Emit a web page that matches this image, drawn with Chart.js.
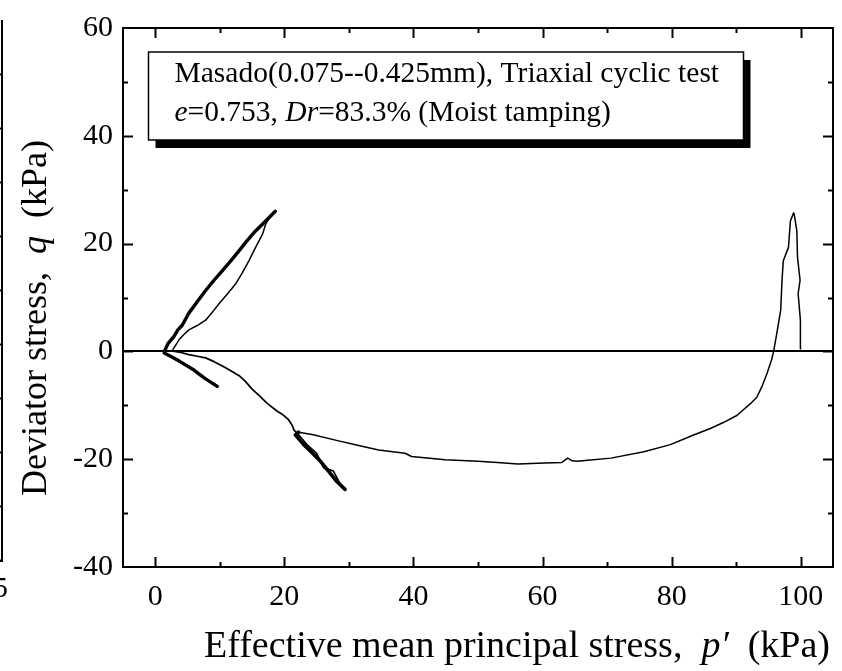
<!DOCTYPE html>
<html>
<head>
<meta charset="utf-8">
<title>Effective stress path</title>
<script src="https://cdn.jsdelivr.net/npm/chart.js@4.4.0/dist/chart.umd.min.js"></script>
<style>
  html, body { margin: 0; padding: 0; background: #fff; }
  #wrap { width: 842px; height: 671px; }
</style>
</head>
<body>
<div id="wrap"><canvas id="chart" width="842" height="671"></canvas></div>
<script>
/* ===============================
   Data: p' and q (kPa)
================================ */
// first compression loading, unloading, then extension down to the failure line
const loadP = [100.0, 99.9, 100.0, 99.6, 99.9, 99.5, 99.4, 99.0, 98.9, 98.4, 98.1, 97.3, 97.1, 96.9, 96.3, 95.8, 95.5,
  94.8, 94.0, 93.2, 92.2, 90.1, 88.0, 86.0, 83.4, 79.8, 75.7, 70.6, 67.0, 65.4, 64.6, 63.9, 63.0, 60.3, 56.2, 53.0,
  50.0, 44.9, 39.7, 38.7, 34.6, 31.0, 28.4, 24.3, 22.2];
const loadQ = [0.5, 3.0, 5.8, 10.7, 13.2, 17.5, 22.3, 25.4, 25.7, 24.2, 19.3, 16.8, 13.2, 7.7, 3.4, 0.0, -1.5,
  -4.0, -6.5, -8.5, -9.7, -11.9, -13.2, -14.3, -15.5, -17.3, -18.6, -19.8, -20.2, -20.4, -20.3, -19.8, -20.6, -20.7, -20.9, -20.6,
  -20.4, -20.1, -19.5, -18.9, -18.3, -17.3, -16.6, -15.4, -15.0];

// extension along the failure line (several overlapping cycles)
const extP = [22.2, 21.7, 23.0, 24.3, 25.6, 26.9, 28.1, 29.4];
const extQ = [-15.0, -15.5, -17.3, -18.8, -20.4, -22.3, -24.1, -25.6];

// unloading from extension back towards the origin
const backP = [29.4, 28.7, 27.6, 26.1, 25.0, 23.5, 22.0, 21.5, 21.2, 20.6, 19.6, 18.9, 17.3, 16.2, 15.0, 14.0, 13.0,
  11.7, 10.4, 9.1, 7.8, 6.5, 5.2, 4.0, 2.7];
const backQ = [-25.6, -24.7, -22.2, -21.6, -18.9, -17.3, -15.2, -14.6, -13.7, -12.6, -11.6, -11.1, -9.6, -8.3, -7.0, -5.6, -4.5,
  -3.6, -2.7, -1.9, -1.2, -0.9, -0.6, -0.2, 0.05];

// cyclic mobility: compression branch
const compUpP = [1.4, 2.0, 2.9, 3.5, 4.2, 5.2, 6.5, 7.8, 9.1, 10.4, 11.7, 13.0, 14.2, 15.5, 16.6, 17.6, 18.6];
const compUpQ = [0.0, 1.5, 2.8, 4.0, 4.9, 7.1, 9.2, 11.3, 13.2, 15.0, 16.8, 18.7, 20.5, 22.3, 23.6, 24.8, 26.0];
const compDownP = [18.6, 17.6, 17.1, 16.6, 15.5, 14.5, 13.5, 12.5, 11.2, 9.9, 8.8, 7.8, 6.5, 5.2, 4.4, 3.7, 2.7];
const compDownQ = [26.0, 24.6, 23.6, 21.7, 19.2, 16.8, 14.6, 12.6, 10.7, 8.9, 7.2, 5.8, 4.8, 4.0, 3.1, 2.2, 0.3];

// cyclic mobility: extension branch
const extSmallP = [1.4, 2.5, 3.7, 4.8, 5.8, 6.8, 7.8, 8.7, 9.6];
const extSmallQ = [-0.3, -1.0, -1.8, -2.6, -3.3, -4.2, -5.1, -5.8, -6.5];

const xTicks = [0, 20, 40, 60, 80, 100];
const yTicks = [-40, -20, 0, 20, 40, 60];

const FONT = "'Liberation Serif', 'Times New Roman', serif";

function pts(p, q) {
  return p.map((v, i) => ({ x: v, y: q[i] }));
}

function path(p, q, width) {
  return {
    data: pts(p, q),
    showLine: true,
    borderColor: "#000",
    borderWidth: width,
    pointRadius: 0,
    tension: 0,
    borderJoinStyle: "round",
    borderCapStyle: "round"
  };
}

/* ===============================
   Rich text helper (italic parts)
================================ */
function drawRich(ctx, parts, x, y, size, align) {
  let total = 0;
  parts.forEach(([t, it]) => {
    ctx.font = (it ? "italic " : "") + size + "px " + FONT;
    total += ctx.measureText(t).width;
  });
  let cx = align === "right" ? x - total : align === "center" ? x - total / 2 : x;
  ctx.textAlign = "left";
  ctx.textBaseline = "alphabetic";
  parts.forEach(([t, it]) => {
    ctx.font = (it ? "italic " : "") + size + "px " + FONT;
    ctx.fillText(t, cx, y);
    cx += ctx.measureText(t).width;
  });
}

/* ===============================
   Frame, inside ticks, labels
================================ */
const decor = {
  id: "decor",
  afterDraw(chart) {
    const { ctx, chartArea: a, scales } = chart;
    const xs = scales.x, ys = scales.y;
    ctx.save();
    ctx.strokeStyle = "#000";
    ctx.fillStyle = "#000";

    // ticks pointing inward on all four sides
    ctx.lineWidth = 2;
    ctx.beginPath();
    for (let v = 0; v <= 100; v += 10) {
      const px = Math.round(xs.getPixelForValue(v)) + 0.5;
      const len = v % 20 === 0 ? 10 : 5;
      ctx.moveTo(px, a.bottom); ctx.lineTo(px, a.bottom - len);
      ctx.moveTo(px, a.top); ctx.lineTo(px, a.top + len);
    }
    for (let v = -30; v <= 50; v += 10) {
      const py = Math.round(ys.getPixelForValue(v)) + 0.5;
      const len = v % 20 === 0 ? 10 : 5;
      ctx.moveTo(a.left, py); ctx.lineTo(a.left + len, py);
      ctx.moveTo(a.right, py); ctx.lineTo(a.right - len, py);
    }
    ctx.stroke();

    // frame
    ctx.lineWidth = 2;
    ctx.strokeRect(a.left, a.top, a.right - a.left, a.bottom - a.top);

    // info box with drop shadow
    const bx = a.left + 25.5, by = a.top + 24, bw = 595, bh = 88;
    ctx.fillRect(bx + 7, by + 8, bw, bh);
    ctx.fillStyle = "#fff";
    ctx.fillRect(bx, by, bw, bh);
    ctx.lineWidth = 1.5;
    ctx.strokeRect(bx, by, bw, bh);
    ctx.fillStyle = "#000";
    drawRich(ctx, [["Masado(0.075--0.425mm), Triaxial cyclic test", false]], bx + 26, by + 30, 29.5);
    drawRich(ctx, [["e", true], ["=0.753, ", false], ["Dr", true], ["=83.3% (Moist tamping)", false]], bx + 26, by + 69, 29.5);

    // axis titles
    drawRich(ctx, [["Effective mean principal stress,  ", false], ["p\u2032", true], ["  (kPa)", false]], 830, 657, 38, "right");
    ctx.save();
    ctx.translate(46, 318);
    ctx.rotate(-Math.PI / 2);
    drawRich(ctx, [["Deviator stress,  ", false], ["q", true], ["  (kPa)", false]], 0, 0, 36, "center");
    ctx.restore();

    // edge of the neighbouring panel
    ctx.lineWidth = 2;
    ctx.beginPath();
    ctx.moveTo(2, 20); ctx.lineTo(2, 561); ctx.lineTo(0, 561);
    for (let py = 74; py < 561; py += 54) {
      ctx.moveTo(2, py + 0.5); ctx.lineTo(-4, py + 0.5);
    }
    ctx.stroke();
    ctx.font = "30px " + FONT;
    ctx.textAlign = "right";
    ctx.textBaseline = "middle";
    ctx.fillText("5", 8, 589);

    ctx.restore();
  }
};

/* ===============================
   Chart
================================ */
new Chart(document.getElementById("chart"), {
  type: "scatter",
  data: {
    datasets: [
      path(loadP, loadQ, 1.5),
      path(extP, extQ, 3.6),
      path(backP, backQ, 1.7),
      path(compUpP, compUpQ, 3.4),
      path(compDownP, compDownQ, 1.5),
      path(extSmallP, extSmallQ, 3.4)
    ]
  },
  options: {
    responsive: false,
    animation: false,
    devicePixelRatio: 1,
    layout: { padding: { top: 21, right: 9, left: 0, bottom: 0 } },
    plugins: {
      legend: { display: false },
      tooltip: { enabled: false }
    },
    scales: {
      x: {
        type: "linear",
        min: -5,
        max: 105,
        border: { display: false },
        grid: { display: false },
        afterBuildTicks: s => { s.ticks = xTicks.map(v => ({ value: v })); },
        afterFit: s => { s.height = 104; },
        ticks: {
          color: "#000",
          padding: 4,
          maxRotation: 0,
          font: { family: FONT, size: 30 }
        }
      },
      y: {
        type: "linear",
        min: -40,
        max: 60,
        border: { display: false },
        grid: {
          drawTicks: false,
          lineWidth: 2,
          color: c => (c.tick && c.tick.value === 0 ? "#000" : "rgba(0,0,0,0)")
        },
        afterBuildTicks: s => { s.ticks = yTicks.map(v => ({ value: v })); },
        afterFit: s => { s.width = 123; },
        ticks: {
          color: "#000",
          padding: 10,
          font: { family: FONT, size: 30 }
        }
      }
    }
  },
  plugins: [decor]
});
</script>
</body>
</html>
